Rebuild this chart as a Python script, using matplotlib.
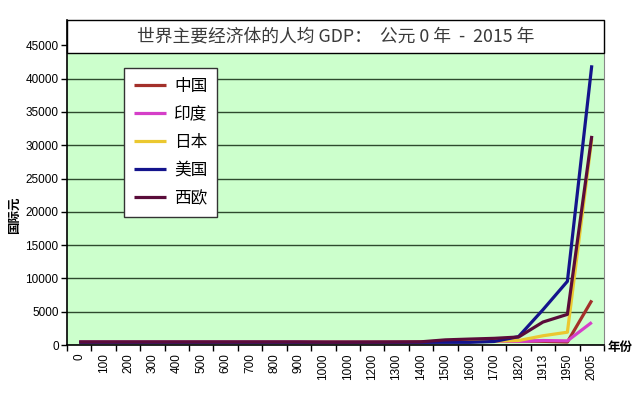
import matplotlib
matplotlib.use("Agg")
import matplotlib.pyplot as plt
from matplotlib.patches import Rectangle
from matplotlib.ticker import FixedLocator, NullFormatter

plt.rcParams['font.family'] = ['Noto Sans CJK SC', 'DejaVu Sans']

years = ["0", "100", "200", "300", "400", "500", "600", "700", "800", "900",
         "1000", "1000", "1200", "1300", "1400", "1500", "1600", "1700",
         "1820", "1913", "1950", "2005"]

china = [450, 450, 450, 450, 450, 450, 450, 450, 450, 450, 450, 450, 450, 450, 450,
         600, 600, 600, 600, 552, 448, 6700]
india = [450, 450, 450, 450, 450, 450, 450, 450, 450, 450, 450, 450, 450, 450, 450,
         550, 550, 550, 533, 673, 619, 3400]
japan = [400, 400, 400, 400, 400, 400, 400, 400, 400, 400, 425, 425, 425, 425, 450,
         500, 520, 570, 669, 1387, 1921, 31000]
usa = [400, 400, 400, 400, 400, 400, 400, 400, 400, 400, 400, 400, 400, 400, 400,
       400, 400, 527, 1257, 5301, 9561, 42000]
weurope = [450, 450, 450, 450, 450, 450, 450, 450, 450, 450, 420, 420, 430, 450, 480,
           770, 890, 1000, 1200, 3450, 4600, 31400]

series_names = ["中国", "印度", "日本", "美国", "西欧"]
series_values = [china, india, japan, usa, weurope]
colors = ["#A3302A", "#D53FC8", "#EBC830", "#14148C", "#5A0C3A"]

title = "世界主要经济体的人均 GDP：  公元 0 年  -  2015 年"

fig = plt.figure(figsize=(6.4, 3.95), dpi=100)
fig.patch.set_facecolor("white")
ax = fig.add_axes([67/640, (395-345)/395, (604-67)/640, (345-20)/395])
ax.set_facecolor("#CCFFCC")

x = list(range(len(years)))
handles = []
for name, vals, c in zip(series_names, series_values, colors):
    h, = ax.plot(x, vals, color=c, lw=2.3, label=name, solid_capstyle='butt', zorder=3)
    handles.append(h)

ax.set_xlim(-0.5, len(years) - 0.5)
ax.set_ylim(0, 48800)
ax.set_yticks(range(0, 45001, 5000))
ax.set_yticklabels([str(v) for v in range(0, 45001, 5000)],
                   family=['Liberation Sans', 'DejaVu Sans'], fontsize=8.5)
ax.yaxis.grid(True, color="#2E4A2E", lw=1.0, zorder=1)
ax.set_axisbelow(True)

ax.set_xticks(x)
ax.set_xticklabels(years, rotation=90, family=['Liberation Sans', 'DejaVu Sans'], fontsize=8.5)
ax.tick_params(axis='x', which='major', length=0, pad=6)
ax.xaxis.set_minor_locator(FixedLocator([i - 0.5 for i in range(len(years) + 1)]))
ax.xaxis.set_minor_formatter(NullFormatter())
ax.tick_params(axis='x', which='minor', length=4, width=1, color='black')
ax.tick_params(axis='y', which='major', length=4, width=1, color='black', pad=2)

for s in ['left', 'bottom']:
    ax.spines[s].set_color('black')
    ax.spines[s].set_linewidth(1.2)
ax.spines['right'].set_color('#888888')
ax.spines['right'].set_linewidth(0.8)
ax.spines['top'].set_visible(False)

# title box overlapping the top of the plot area
box_bottom = (345 - 53) / 325
ax.add_patch(Rectangle((0, box_bottom), 1.0, 1.0 - box_bottom, transform=ax.transAxes,
                       facecolor='white', edgecolor='black', lw=1.0, zorder=5, clip_on=False))
ax.text(0.5, (box_bottom + 1.0) / 2, title, transform=ax.transAxes, ha='center', va='center',
        fontsize=12.8, color='#3A3A3A', zorder=6)

leg = ax.legend(handles=handles, loc='upper left', bbox_to_anchor=((124-67)/537, (345-68)/325),
                frameon=True, fancybox=False, edgecolor='#333333', framealpha=1.0,
                fontsize=12, handlelength=1.9, handletextpad=0.5, labelspacing=0.66,
                borderpad=0.6, borderaxespad=0)
leg.get_frame().set_linewidth(1.0)
leg.set_zorder(7)

fig.text(14/640, 1 - 215/395, "国际元", rotation=90, ha='center', va='center',
         fontsize=9, fontweight='bold')
fig.text(620/640, 1 - 347/395, "年份", ha='center', va='center', fontsize=9, fontweight='bold')

fig.savefig("out.png", dpi=100, facecolor='white')
